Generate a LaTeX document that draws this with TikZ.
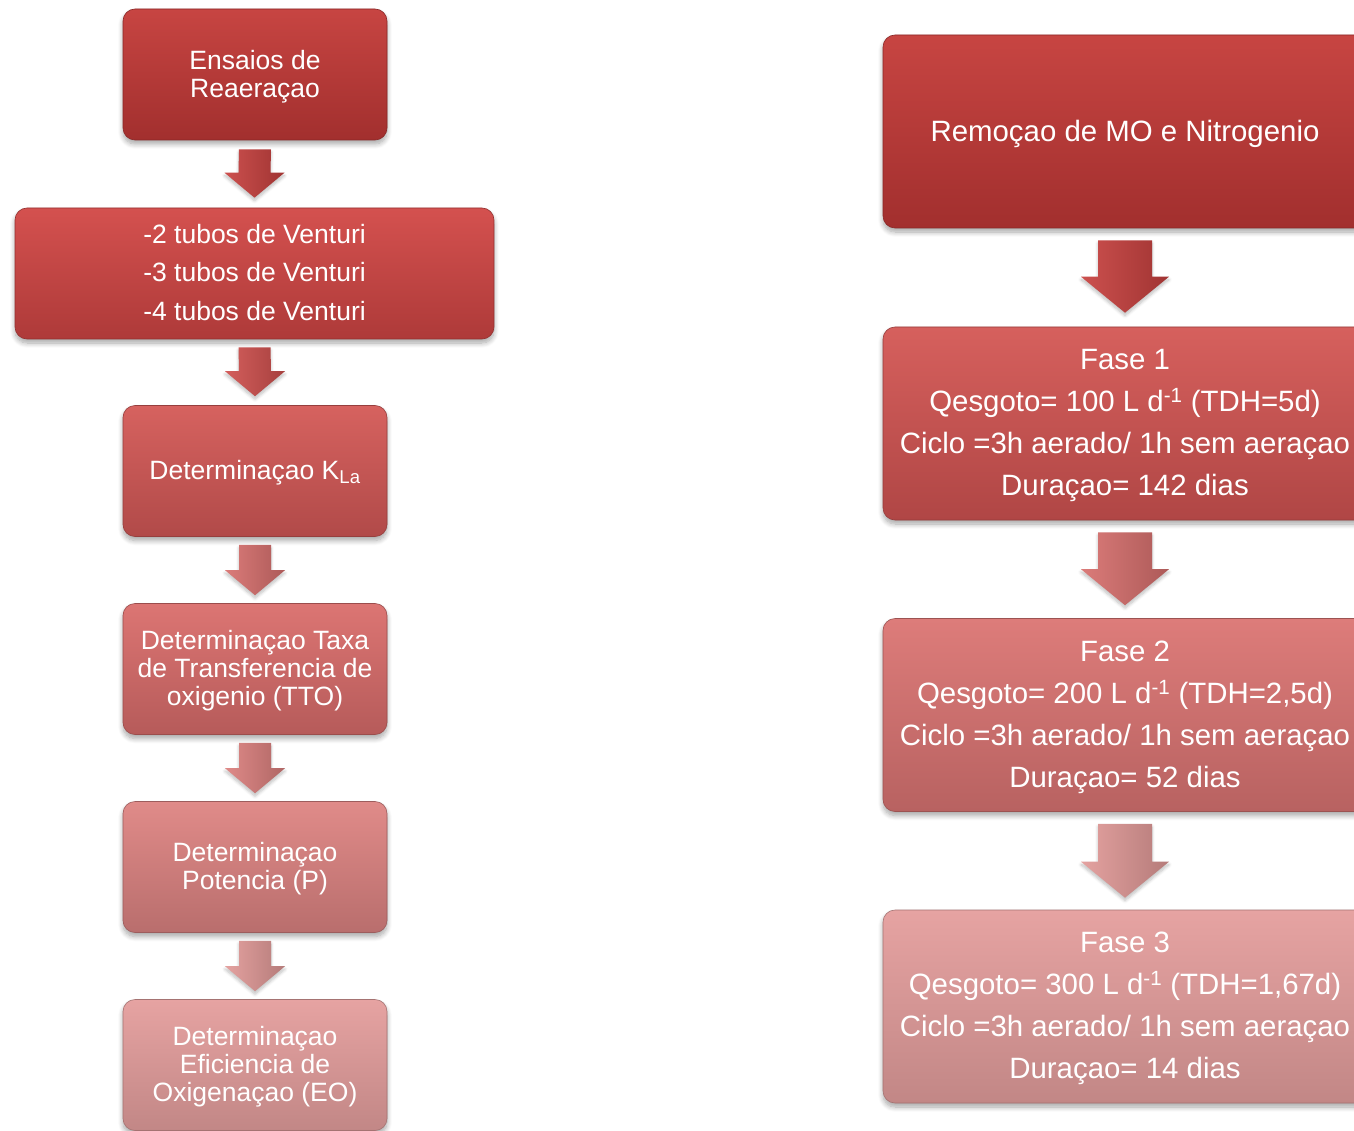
\documentclass[tikz,border=0pt]{standalone}
\usepackage{fontspec}
\setmainfont{Liberation Sans}
\usetikzlibrary{shadows,shadows.blur,calc}
\definecolor{bAt}{HTML}{C74542}\definecolor{bAb}{HTML}{A22F2E}
\definecolor{bBt}{HTML}{D4514F}\definecolor{bBb}{HTML}{AE3A39}
\definecolor{bCt}{HTML}{D6625F}\definecolor{bCb}{HTML}{B14A49}
\definecolor{bDt}{HTML}{DC7573}\definecolor{bDb}{HTML}{B65B5A}
\definecolor{bEt}{HTML}{E08B89}\definecolor{bEb}{HTML}{B96E6D}
\definecolor{bFt}{HTML}{E6A3A2}\definecolor{bFb}{HTML}{C28786}
\definecolor{rBt}{HTML}{D6605D}\definecolor{rBb}{HTML}{B04645}
\definecolor{rCt}{HTML}{DD7C7A}\definecolor{rCb}{HTML}{B86261}
\definecolor{aA}{HTML}{C8413F}\definecolor{aB}{HTML}{D0504E}
\definecolor{aC}{HTML}{D8706E}\definecolor{aD}{HTML}{DC807E}
\definecolor{aE}{HTML}{E29A98}
\newcommand\blockarr[8]{%
  \coordinate (#1-#2-t) at ($(#1.south)+(0,#3)$);
  \coordinate (#1-#2-p) at ($(#2.north)+(0,-#4)$);
  \path[#8] ($(#1-#2-t)+(-#5,0)$) -- ($(#1-#2-t)+(#5,0)$)
    -- ($(#1-#2-p)+(#5,-#7)$) -- ($(#1-#2-p)+(#6,-#7)$) -- (#1-#2-p)
    -- ($(#1-#2-p)+(-#6,-#7)$) -- ($(#1-#2-p)+(-#5,-#7)$) -- cycle;}
\begin{document}
\begin{tikzpicture}[x=1pt,y=-1pt,
  box/.style={rounded corners=12pt, inner sep=0pt,
    draw=#1b!85!black, line width=0.6pt, top color=#1t, bottom color=#1b,
    blur shadow={shadow xshift=0pt, shadow yshift=-4pt, shadow blur steps=8,
      shadow blur radius=5pt, shadow opacity=35}},
  lbox/.style={box=#1, minimum width=264pt, minimum height=131pt},
  rbox/.style={box=#1, minimum width=484pt, minimum height=193pt},
  ltxt/.style={text=white, align=center, inner sep=0pt,
    font=\fontsize{26.5}{28}\selectfont},
  rtxt/.style={text=white, align=center, inner sep=0pt,
    font=\fontsize{29.4}{42}\selectfont},
  arr/.style={left color=#1!92!white, right color=#1!80!black,
    blur shadow={shadow xshift=0pt, shadow yshift=-3pt, shadow blur steps=6,
      shadow blur radius=3pt, shadow opacity=25}},
]
\useasboundingbox (0,0) rectangle (1354,1131);
\clip (0,0) rectangle (1354,1131);
% left column
\node[lbox=bA] (b1) at (255,74.5) {};
\node[lbox=bB, minimum width=479pt] (b2) at (254.5,273.5) {};
\node[lbox=bC] (b3) at (255,471) {};
\node[lbox=bD] (b4) at (255,669) {};
\node[lbox=bE] (b5) at (255,867) {};
\node[lbox=bF] (b6) at (255,1065) {};
\node[ltxt] (b1t) at ($(b1)+(0,2)$) {Ensaios de\\Reaeraçao};
\node[ltxt] (b2t) at ($(b2)+(0,-1)$)
  {-2 tubos de Venturi\\[10.5pt]-3 tubos de Venturi\\[10.5pt]-4 tubos de Venturi};
\node[ltxt] (b3t) at ($(b3)+(0,2)$) {Determinaçao K\textsubscript{La}};
\node[ltxt] (b4t) at ($(b4)+(0,2)$) {Determinaçao Taxa\\de Transferencia de\\oxigenio (TTO)};
\node[ltxt] (b5t) at ($(b5)+(0,2)$) {Determinaçao\\Potencia (P)};
\node[ltxt] (b6t) at ($(b6)+(0,2)$) {Determinaçao\\Eficiencia de\\Oxigenaçao (EO)};
\blockarr{b1}{b2}{9}{10}{16}{30}{25}{arr=aA}
\blockarr{b2}{b3}{8}{9}{16}{30}{25}{arr=aB}
\blockarr{b3}{b4}{8}{8}{16}{30}{25}{arr=aC}
\blockarr{b4}{b5}{8}{8}{16}{30}{25}{arr=aD}
\blockarr{b5}{b6}{8}{8}{16}{30}{25}{arr=aE}
% right column
\node[rbox=bA] (r1) at (1125,131.5) {};
\node[rbox=rB] (r2) at (1125,423.5) {};
\node[rbox=rC] (r3) at (1125,715) {};
\node[rbox=bF] (r4) at (1125,1006.5) {};
\node[rtxt] (r1t) at ($(r1)+(0,2.5)$) {Remoçao de MO e Nitrogenio};
\node[rtxt] (r2t) at ($(r2)+(0,2)$) {Fase 1\\Qesgoto= 100 L d\textsuperscript{-1} (TDH=5d)\\Ciclo =3h aerado/ 1h sem aeraçao\\Duraçao= 142 dias};
\node[rtxt] (r3t) at ($(r3)+(0,2)$) {Fase 2\\Qesgoto= 200 L d\textsuperscript{-1} (TDH=2,5d)\\Ciclo =3h aerado/ 1h sem aeraçao\\Duraçao= 52 dias};
\node[rtxt] (r4t) at ($(r4)+(0,2)$) {Fase 3\\Qesgoto= 300 L d\textsuperscript{-1} (TDH=1,67d)\\Ciclo =3h aerado/ 1h sem aeraçao\\Duraçao= 14 dias};
\blockarr{r1}{r2}{12}{14}{27}{44}{36}{arr=aA}
\blockarr{r2}{r3}{12}{13}{27}{44}{36}{arr=aC}
\blockarr{r3}{r4}{12}{12}{27}{44}{36}{arr=aE}
\end{tikzpicture}
\end{document}
